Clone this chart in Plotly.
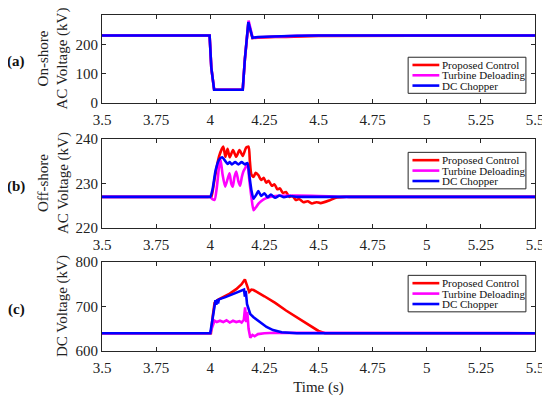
import plotly.graph_objects as go

# ---------------- data ----------------
series_names = ["Proposed Control", "Turbine Deloading", "DC Chopper"]
series_colors = ["#FF0000", "#FF00FF", "#0000FF"]

# Panel (a): On-shore AC voltage (kV)
a_red_t = [3.5, 3.997, 4.005, 4.018, 4.15, 4.16, 4.176, 4.186, 4.195, 4.22, 4.26, 4.3, 4.35, 4.4, 4.45, 4.5, 5.5]
a_red_v = [230, 230, 120, 45, 45, 150, 272, 245, 221, 223, 225, 225.5, 225.5, 226, 227.5, 229, 230]
a_mag_t = [3.5, 3.997, 4.005, 4.018, 4.15, 4.16, 4.177, 4.187, 4.196, 4.22, 4.3, 4.4, 4.5, 5.5]
a_mag_v = [230, 230, 120, 45, 45, 150, 281, 248, 222, 224, 227, 229, 230, 230]
a_blu_t = [3.5, 3.997, 4.005, 4.018, 4.15, 4.16, 4.176, 4.186, 4.195, 4.22, 4.3, 4.4, 4.5, 5.5]
a_blu_v = [230, 230, 120, 45, 45, 150, 276, 246, 222, 225, 228, 229.3, 230, 230]

# Panel (b): Off-shore AC voltage (kV)
b_red_t = [3.5, 3.9, 3.997, 4.005, 4.02, 4.04, 4.06, 4.07, 4.08, 4.09, 4.105, 4.12, 4.135, 4.15, 4.165, 4.177,
           4.183, 4.19, 4.2, 4.21, 4.222, 4.235, 4.247, 4.258, 4.27, 4.284, 4.297, 4.31, 4.322,
           4.335, 4.35, 4.365, 4.38, 4.395, 4.41, 4.43, 4.45, 4.47, 4.49, 4.51, 4.55, 4.58, 4.62, 4.65, 4.8, 5.5]
b_red_v = [227, 227, 227, 227, 231, 236, 238.3, 236, 237.8, 235.9, 237.5, 236, 237.5, 236.2, 238, 238.3,
           235, 232, 231.5, 232.4, 231.9, 230.8, 231.3, 230.2, 230.6, 229.5, 229.8, 228.7, 228.9,
           227.9, 228.1, 227.0, 227.2, 226.3, 226.5, 225.8, 226.0, 225.5, 225.8, 225.6, 226.2, 226.8, 227, 227, 227, 227]
b_mag_t = [3.5, 3.9, 3.99, 4.0, 4.01, 4.02, 4.03, 4.04, 4.047, 4.057, 4.069, 4.08, 4.089, 4.097, 4.104, 4.112,
           4.12, 4.13, 4.138, 4.146, 4.153, 4.162, 4.172, 4.18, 4.19, 4.2, 4.21, 4.225, 4.245, 4.27,
           4.3, 4.4, 4.5, 4.6, 4.63, 4.8, 5.5]
b_mag_v = [227, 227, 227, 227, 226.5, 226.3, 229, 233.5, 235.5, 232, 229.3, 231, 232.3, 230, 229.3, 231.5,
           232.7, 230.5, 229.5, 231.5, 232.7, 233.5, 234.5, 231, 227, 224, 224.6, 225.6, 226.4, 226.9,
           227.2, 227.3, 227.2, 227, 227, 227, 227]
b_blu_t = [3.5, 3.9, 3.99, 4.0, 4.01, 4.025, 4.04, 4.055, 4.07, 4.08, 4.09, 4.1, 4.115, 4.13, 4.145, 4.16,
           4.172, 4.18, 4.19, 4.2, 4.213, 4.222, 4.235, 4.25, 4.265, 4.28, 4.3, 4.32, 4.34, 4.37, 4.4,
           4.43, 4.6, 5.5]
b_blu_v = [227, 227, 227, 227, 228.5, 233, 235.3, 235.9, 235, 234.4, 234.8, 234.3, 234.8, 234.3, 234.8, 234.3,
           234.6, 232, 228.5, 226.6, 227.5, 228.3, 227.2, 227.8, 226.9, 227.5, 226.8, 227.3, 226.9, 227.2, 227,
           227, 227, 227]

# Panel (c): DC voltage (kV)
c_red_t = [3.5, 4.003, 4.012, 4.02, 4.035, 4.06, 4.09, 4.12, 4.145, 4.16, 4.168, 4.18, 4.19, 4.2,
           4.25, 4.3, 4.35, 4.4, 4.45, 4.5, 4.53, 5.5]
c_red_v = [640, 640, 680, 708, 715, 721, 729, 739, 750, 761, 748, 733, 738, 737,
           723, 708, 691, 675, 659, 645, 640, 640]
c_mag_t = [3.5, 4.0, 4.01, 4.02, 4.03, 4.045, 4.06, 4.075, 4.09, 4.105, 4.12, 4.135, 4.145, 4.155,
           4.161, 4.166, 4.171, 4.177, 4.185, 4.195, 4.205, 4.22, 4.25, 4.3, 5.5]
c_mag_v = [640, 640, 655, 668, 665, 668, 665, 669, 664, 668, 665, 667, 664, 670,
           698, 665, 688, 650, 630, 636, 633, 638, 640, 641, 640]
c_blu_t = [3.5, 4.0, 4.01, 4.02, 4.024, 4.028, 4.032, 4.036, 4.04, 4.07, 4.1, 4.13, 4.15, 4.156,
           4.16, 4.164, 4.17, 4.178, 4.185, 4.2, 4.23, 4.26, 4.29, 4.33, 4.4, 5.5]
c_blu_v = [640, 640, 670, 702, 714, 704, 716, 707, 716, 721, 727, 733, 736, 738,
           722, 735, 705, 690, 683, 676, 664, 654, 647, 642, 640, 640]

y_titles = ["On-shore<br>AC Voltage (kV)", "Off-shore<br>AC Voltage (kV)", "DC Voltage (kV)"]
panel_tags = ["(a)", "(b)", "(c)"]
x_ticks = [3.5, 3.75, 4, 4.25, 4.5, 4.75, 5, 5.25, 5.5]
x_tick_text = ["3.5", "3.75", "4", "4.25", "4.5", "4.75", "5", "5.25", "5.5"]
y_ticks = [[0, 100, 200, 300], [220, 230, 240], [600, 700, 800]]
y_ranges = [[0, 300], [220, 240], [600, 800]]
x_title = "Time (s)"

panels = [
    [(a_red_t, a_red_v), (a_mag_t, a_mag_v), (a_blu_t, a_blu_v)],
    [(b_red_t, b_red_v), (b_mag_t, b_mag_v), (b_blu_t, b_blu_v)],
    [(c_red_t, c_red_v), (c_mag_t, c_mag_v), (c_blu_t, c_blu_v)],
]

# ---------------- layout constants ----------------
# page body has an 8px default margin; figure is sized to fill the rest of the 550x396 window
OFF = 8
W, H = 550 - OFF, 396 - OFF
def px_x(p):
    return (p - OFF) / W
def px_y(p):
    return 1 - (p - OFF) / H

FONT = "Liberation Serif, Times New Roman, serif"
AX_COLOR = "#262626"
x_dom = [px_x(102), px_x(535)]
y_px = [(15, 103), (139, 228), (262, 351)]
y_doms = [[px_y(b), px_y(t)] for t, b in y_px]
leg_boxes = [(0.707, 0.979, 0.11, 0.52), (0.707, 0.979, 0.44, 0.85), (0.707, 0.979, 0.44, 0.85)]

fig = go.Figure()
shapes, annotations = [], []
for i, panel in enumerate(panels):
    xa = "x" if i == 0 else f"x{i+1}"
    ya = "y" if i == 0 else f"y{i+1}"
    for (t, v), name, col in zip(panel, series_names, series_colors):
        line = dict(color=col, width=2.6)
        if i == 1:
            line.update(shape="spline", smoothing=0.6)
        fig.add_trace(go.Scatter(x=t, y=v, mode="lines", name=name, xaxis=xa, yaxis=ya,
                                 line=line, showlegend=False))
    suffix = "" if i == 0 else str(i + 1)
    fig.layout["xaxis" + suffix] = dict(
        domain=x_dom, anchor=ya, range=[3.5, 5.5], tickvals=x_ticks, ticktext=x_tick_text,
        showgrid=False, zeroline=False, showline=True, linecolor=AX_COLOR, linewidth=1,
        mirror="ticks", ticks="inside", ticklen=4, tickcolor=AX_COLOR, automargin=False,
        tickfont=dict(family=FONT, size=15, color="#222"), ticklabelstandoff=3,
        title=dict(text=x_title if i == 2 else "", font=dict(family=FONT, size=15, color="#222"), standoff=6),
    )
    fig.layout["yaxis" + suffix] = dict(
        domain=y_doms[i], anchor=xa, range=y_ranges[i], tickvals=y_ticks[i],
        showgrid=False, zeroline=False, showline=True, linecolor=AX_COLOR, linewidth=1,
        mirror="ticks", ticks="inside", ticklen=4, tickcolor=AX_COLOR, automargin=False,
        tickfont=dict(family=FONT, size=15, color="#222"),
    )
    ymid = (y_doms[i][0] + y_doms[i][1]) / 2
    annotations.append(dict(text=y_titles[i], xref="paper", yref="paper",
                            x=px_x(53.5 if "<br>" in y_titles[i] else 62.5), y=ymid,
                            textangle=-90, showarrow=False, xanchor="center", yanchor="middle",
                            font=dict(family=FONT, size=15, color="#222")))
    annotations.append(dict(text="<b>" + panel_tags[i] + "</b>", xref="paper", yref="paper",
                            x=px_x(16), y=ymid, yshift=-3, showarrow=False,
                            xanchor="center", yanchor="middle",
                            font=dict(family=FONT, size=15, color="#111")))
    x0, x1, y0, y1 = leg_boxes[i]
    xd, yd = xa + " domain", ya + " domain"
    shapes.append(dict(type="rect", xref=xd, yref=yd, x0=x0, x1=x1, y0=y0, y1=y1,
                       line=dict(color=AX_COLOR, width=1), fillcolor="white"))
    for k, (name, col) in enumerate(zip(series_names, series_colors)):
        yy = y1 - (y1 - y0) * (k + 0.75) / 3.5
        shapes.append(dict(type="line", xref=xd, yref=yd, x0=x0 + 0.01, x1=x0 + 0.072, y0=yy, y1=yy,
                           line=dict(color=col, width=2.6)))
        annotations.append(dict(text=name, xref=xd, yref=yd, x=x0 + 0.077, y=yy, showarrow=False,
                                xanchor="left", yanchor="middle", borderpad=0,
                                font=dict(family=FONT, size=11, color="#111")))

fig.update_layout(width=W, height=H, margin=dict(l=0, r=0, t=0, b=0, autoexpand=False),
                  paper_bgcolor="white", plot_bgcolor="white",
                  shapes=shapes, annotations=annotations, showlegend=False)
fig.write_html("out.html")
